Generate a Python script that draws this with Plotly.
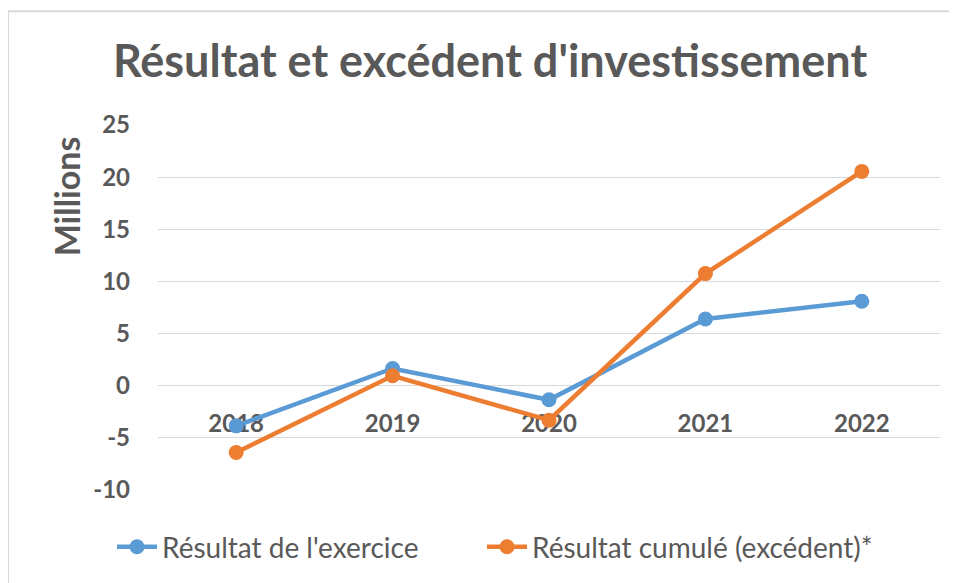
import plotly.graph_objects as go

years = ["2018", "2019", "2020", "2021", "2022"]
resultat_exercice = [-3.85, 1.65, -1.35, 6.4, 8.1]
resultat_cumule = [-6.4, 0.95, -3.3, 10.75, 20.55]
y_ticks = [-10, -5, 0, 5, 10, 15, 20, 25]
y_tick_labels = ["-10", "-5", "0", "5", "10", "15", "20", "25"]

GREY = "#595959"
FONT = "Lato"

# the page shows the figure 8px in from the window edge
OFF = 8
W, H = 957 - OFF, 583 - OFF
L, R, T, B = 158 - OFF, 17, 125 - OFF, 92
PW = W - L - R
PH = H - T - B


def px(xpix):
    return (xpix - OFF - L) / PW


def py(ypix):
    return (H - B - (ypix - OFF)) / PH


fig = go.Figure()
fig.add_trace(go.Scatter(
    x=years, y=resultat_exercice, name="Résultat de l'exercice",
    mode="lines+markers",
    line=dict(color="#5B9BD5", width=4.5),
    marker=dict(size=15, color="#5B9BD5"),
    legend="legend",
))
fig.add_trace(go.Scatter(
    x=years, y=resultat_cumule, name="Résultat cumulé (excédent)*",
    mode="lines+markers",
    line=dict(color="#ED7D31", width=4.5),
    marker=dict(size=15, color="#ED7D31"),
    legend="legend2",
))

legend_style = dict(
    orientation="h", xanchor="left",
    y=py(547), yanchor="middle",
    font=dict(family=FONT, size=28, color=GREY),
    itemwidth=40,
    bgcolor="rgba(0,0,0,0)",
)

fig.update_layout(
    width=W, height=H,
    margin=dict(l=L, r=R, t=T, b=B),
    paper_bgcolor="white", plot_bgcolor="white",
    font=dict(family=FONT, color=GREY),
    title=dict(
        text="<b>Résultat et excédent d'investissement</b>",
        font=dict(family=FONT, size=45, color=GREY),
        x=px(490), xref="paper", xanchor="center",
        y=1 - (61 - OFF) / H, yref="container", yanchor="middle",
    ),
    xaxis=dict(
        type="category", range=[-0.5, 4.5],
        anchor="free", position=10 / 35,
        showgrid=False, showline=False, zeroline=False,
        ticks="", ticklabelstandoff=21,
        tickfont=dict(family=FONT, size=24, color=GREY, weight="bold"),
        layer="below traces",
    ),
    yaxis=dict(
        range=[-10, 25], tickvals=y_ticks, ticktext=y_tick_labels,
        showgrid=True, gridcolor="#D9D9D9", gridwidth=1.3,
        zeroline=False, showline=False,
        ticks="", ticklabelstandoff=27,
        tickfont=dict(family=FONT, size=24, color=GREY, weight="bold"),
    ),
    legend=dict(legend_style, x=px(112)),
    legend2=dict(legend_style, x=px(482)),
    showlegend=True,
    annotations=[dict(
        text="<b>Millions</b>", textangle=-90,
        x=px(66.5), xref="paper", xanchor="center",
        y=py(197), yref="paper", yanchor="middle",
        showarrow=False,
        font=dict(family=FONT, size=34, color=GREY),
    )],
    shapes=[dict(
        type="rect", xref="paper", yref="paper",
        x0=px(8), x1=1.2,
        y0=-0.6, y1=py(11),
        line=dict(color="#D9D9D9", width=2), layer="below",
    )],
)

fig.write_html("out.html")
